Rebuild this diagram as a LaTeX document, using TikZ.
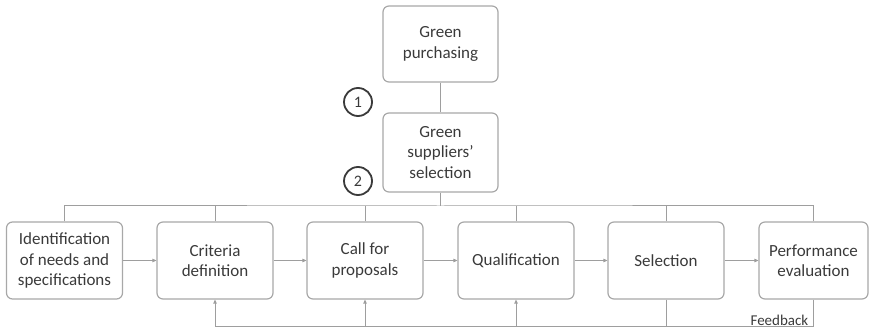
\documentclass[tikz,border=0pt]{standalone}
\usepackage{fontspec}
\setmainfont{Carlito}
\usetikzlibrary{arrows.meta}
\definecolor{boxline}{HTML}{A8A8A8}
\definecolor{wire}{HTML}{9E9E9E}
\definecolor{ink}{HTML}{3A3A3A}
\begin{document}
\begin{tikzpicture}[x=1pt,y=-1pt,
    stage/.style={draw=boxline, line width=1.2pt, rounded corners=6pt, minimum width=116pt,
      minimum height=77pt, inner sep=2pt, align=center, text=ink, font=\fontsize{17}{20.5}\selectfont},
    wire/.style={draw=wire, line width=1pt},
    flow/.style={wire, -{Triangle[length=4pt,width=3.5pt]}},
    num/.style={circle, draw=ink, line width=1.8pt, minimum size=28pt, inner sep=0pt,
      text=ink, font=\fontsize{16}{16}\selectfont}]
    \useasboundingbox (0,0) rectangle (870,331);
    % top of the tree
    \node[stage, minimum width=115pt, minimum height=76pt] (gp) at (440.5,44) {Green\\purchasing};
    \node[stage, minimum width=115pt, minimum height=79pt] (gss) at (440.5,152.5) {Green\\suppliers'\\selection};
    \node[num] (one) at (358,102) {1};
    \node[num] (two) at (358,181) {2};
    % the six stages
    \node[stage] (need) at (64.5,260.5) {Identification\\of needs and\\specifications};
    \node[stage] (crit) at (215,260.5) {Criteria\\definition};
    \node[stage] (call) at (365,260.5) {Call for\\proposals};
    \node[stage] (qual) at (516,260.5) {Qualification};
    \node[stage] (sel) at (666,260.5) {Selection};
    \node[stage, minimum width=109pt] (perf) at (813.5,260.5) {Performance\\evaluation};
    \coordinate (bus) at (440.5,206);
    \coordinate (fb) at (0,326);
    \draw[wire] (gp) -- (gss);
    \draw[wire] (gss) -- (bus);
    \draw[wire] (need.north) |- (bus) -| (perf.north);
    \foreach \n in {crit,call,qual,sel}
        \draw[wire] (\n.north) -- (\n.north |- bus);
    % main flow
    \draw[flow] (need) -- (crit);
    \draw[flow] (crit) -- (call);
    \draw[flow] (call) -- (qual);
    \draw[flow] (qual) -- (sel);
    \draw[flow] (sel) -- (perf);
    % feedback loop
    \draw[flow] (perf.south) -- (perf.south |- fb) -| (crit.south);
    \draw[flow] (call.south |- fb) -- (call.south);
    \draw[flow] (qual.south |- fb) -- (qual.south);
    \draw[wire] (sel.south) -- (sel.south |- fb);
    \node[anchor=south east, inner sep=1pt, text=ink, font=\fontsize{15}{15}\selectfont]
        (fbtext) at ([xshift=-4pt,yshift=-1pt]perf.south |- fb) {Feedback};
\end{tikzpicture}
\end{document}
